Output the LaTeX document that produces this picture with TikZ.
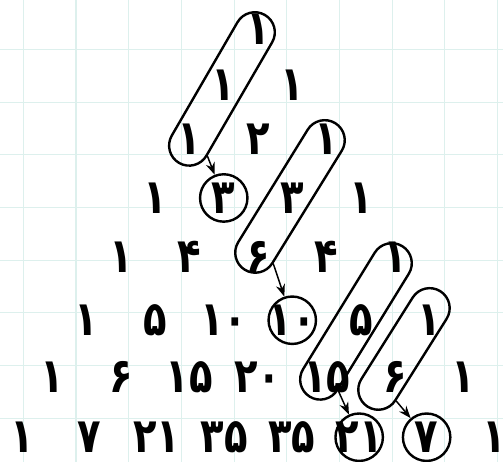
\documentclass[tikz,border=0pt]{standalone}
\usepackage{fontspec}
\usepackage{xcolor}
\usetikzlibrary{arrows.meta,shapes.misc}
\newfontfamily\digitfont[FakeStretch=0.8]{DejaVu Sans}
\definecolor{gridcol}{RGB}{221,240,237}

\begin{document}
\begin{tikzpicture}[>=Stealth, line cap=round, line join=round,
    num/.style={font=\digitfont\bfseries\fontsize{26}{26}\selectfont, inner sep=0pt},
    ring/.style={draw, circle, line width=1.3pt, minimum size=0.9cm},
    capsule/.style={draw, rounded rectangle, line width=1.3pt, minimum height=0.76cm},
    link/.style={->, line width=0.8pt}]

\useasboundingbox (-0.442,-0.829) rectangle (9.103,7.937);

% Griglia
\draw[gridcol, line width=0.6pt] (-0.442,-0.829) grid (9.103,7.937);

% Triangolo di Tartaglia
\foreach \v [count=\k from 0] in {۱}
    \node[num] (n0-\k) at ({4.454+(\k-0)*1.3},7.38) {\v};
\foreach \v [count=\k from 0] in {۱,۱}
    \node[num] (n1-\k) at ({4.454+(\k-0.5)*1.3},6.32) {\v};
\foreach \v [count=\k from 0] in {۱,۲,۱}
    \node[num] (n2-\k) at ({4.454+(\k-1)*1.3},5.30) {\v};
\foreach \v [count=\k from 0] in {۱,۳,۳,۱}
    \node[num] (n3-\k) at ({4.454+(\k-1.5)*1.3},4.18) {\v};
\foreach \v [count=\k from 0] in {۱,۴,۶,۴,۱}
    \node[num] (n4-\k) at ({4.454+(\k-2)*1.3},3.06) {\v};
\foreach \v [count=\k from 0] in {۱,۵,۱۰,۱۰,۵,۱}
    \node[num] (n5-\k) at ({4.454+(\k-2.5)*1.3},1.86) {\v};
\foreach \v [count=\k from 0] in {۱,۶,۱۵,۲۰,۱۵,۶,۱}
    \node[num] (n6-\k) at ({4.454+(\k-3)*1.3},0.78) {\v};
\foreach \v [count=\k from 0] in {۱,۷,۲۱,۳۵,۳۵,۲۱,۷,۱}
    \node[num] (n7-\k) at ({4.454+(\k-3.5)*1.28},-0.36) {\v};

% Somme cerchiate
\node[ring] (r3) at (n3-1) {};
\node[ring] (r10) at (n5-3) {};
\node[ring] (r21) at (n7-5) {};
\node[ring] (r7) at (n7-6) {};

% Diagonali
\node[capsule, rotate=59.9, minimum width=3.48cm] (cap1) at (3.770,6.249) {};
\node[capsule, rotate=58.3, minimum width=3.503cm] (cap2) at (5.061,4.209) {};
\node[capsule, rotate=58.4, minimum width=3.587cm] (cap3) at (6.313,1.838) {};
\node[capsule, rotate=57.8, minimum width=2.823cm] (cap4) at (7.224,1.315) {};

% Frecce
\draw[link] (cap1.south west) -- (r3);
\draw[link] (cap2.south west) -- (r10);
\draw[link] (cap3.south west) -- (r21);
\draw[link] (cap4.south west) -- (r7);

\end{tikzpicture}
\end{document}
